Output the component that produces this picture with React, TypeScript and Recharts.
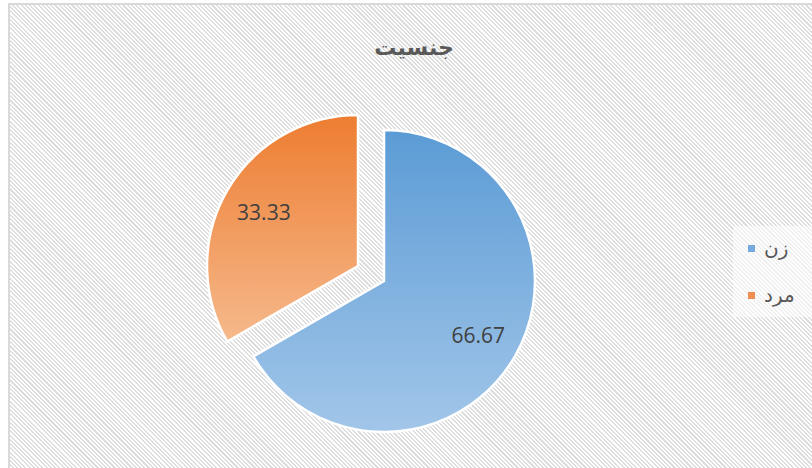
import { PieChart, Pie, Cell, Legend } from "recharts";

const genders = ["زن", "مرد"];
const shares = [66.67, 33.33];
const title = "جنسیت";

const data = genders.map((name, i) => ({ name, value: shares[i] }));

const gradTop = ["#5B9BD5", "#ED7D31"];
const gradBottom = ["#A2C6E9", "#F6B98C"];
const legendColors = ["#76A9DD", "#F08E51"];

const CX = 384;
const CY = 281;
const R = 151;
const EXPLODE = 30;
const RAD = Math.PI / 180;

// mid angle (recharts convention) of each slice when drawn clockwise from top
const total = shares.reduce((a, b) => a + b, 0);
const midAngles = shares.map((v, i) => {
  const before = shares.slice(0, i).reduce((a, b) => a + b, 0);
  return 90 - ((before + v / 2) / total) * 360;
});
const explodeBy = [0, EXPLODE];

const makeLabel = (visible: number) => (props: any) => {
  const { cx, cy, midAngle, outerRadius, value, index } = props;
  if (index !== visible) return null;
  const r = outerRadius * 0.72;
  const x = cx + r * Math.cos(-midAngle * RAD);
  const y = cy + r * Math.sin(-midAngle * RAD);
  return (
    <text
      x={x}
      y={y}
      fill="#404040"
      fontSize={21}
      fontFamily="'Open Sans', 'Liberation Sans', sans-serif"
      textAnchor="middle"
      dominantBaseline="central"
    >
      {value.toFixed(2)}
    </text>
  );
};

const renderLegend = (props: any) => {
  const seen = new Set<string>();
  const items = (props.payload || []).filter((p: any) => {
    if (seen.has(p.value)) return false;
    seen.add(p.value);
    return true;
  });
  return (
    <div
      style={{
        background: "rgba(255,255,255,0.55)",
        padding: "12px 10px 12px 15px",
        width: 62,
      }}
    >
      {items.map((p: any) => {
        const i = genders.indexOf(p.value);
        return (
          <div
            key={p.value}
            style={{
              display: "flex",
              alignItems: "center",
              gap: 9,
              height: 20,
              marginBottom: i === 0 ? 27 : 0,
              fontSize: 20,
              color: "#595959",
              fontFamily: "'DejaVu Sans', sans-serif",
            }}
          >
            <span
              style={{
                width: 7,
                height: 7,
                background: legendColors[i],
                display: "inline-block",
              }}
            />
            <span>{p.value}</span>
          </div>
        );
      })}
    </div>
  );
};

export default function App() {
  return (
    <div style={{ position: "relative", width: 812, height: 468 }}>
      <style>{`body{margin:0;overflow:hidden}`}</style>
      <div
        style={{
          position: "absolute",
          left: 8,
          top: 3,
          width: 804,
          height: 465,
          borderLeft: "2px solid #D9D9D9",
          borderTop: "2px solid #D9D9D9",
          boxSizing: "border-box",
          background:
            "repeating-linear-gradient(45deg, #FFFFFF 0px, #FFFFFF 1.5px, #DEDEDE 1.5px, #DEDEDE 3px)",
        }}
      />
      <div
        style={{
          position: "absolute",
          left: 8,
          top: 35,
          width: 812,
          textAlign: "center",
          fontFamily: "'DejaVu Sans', sans-serif",
          fontWeight: "bold",
          fontSize: 22,
          color: "#595959",
        }}
      >
        {title}
      </div>
      <div style={{ position: "absolute", left: 0, top: 0 }}>
        <PieChart width={812} height={468} margin={{ top: 0, right: 0, bottom: 0, left: 0 }}>
          <defs>
            {gradTop.map((c, i) => (
              <linearGradient key={i} id={`grad${i}`} x1="0" y1="0" x2="0" y2="1">
                <stop offset="0%" stopColor={c} />
                <stop offset="100%" stopColor={gradBottom[i]} />
              </linearGradient>
            ))}
          </defs>
          {genders.map((g, k) => (
            <Pie
              key={g}
              data={data}
              dataKey="value"
              nameKey="name"
              cx={CX + explodeBy[k] * Math.cos(-midAngles[k] * RAD)}
              cy={CY + explodeBy[k] * Math.sin(-midAngles[k] * RAD)}
              outerRadius={R}
              startAngle={90}
              endAngle={-270}
              stroke="#FFFFFF"
              strokeWidth={2.5}
              label={makeLabel(k)}
              labelLine={false}
              isAnimationActive={false}
            >
              {data.map((d, i) => (
                <Cell
                  key={d.name}
                  fill={i === k ? `url(#grad${i})` : "none"}
                  stroke={i === k ? "#FFFFFF" : "none"}
                />
              ))}
            </Pie>
          ))}
          <Legend
            content={renderLegend}
            wrapperStyle={{ position: "absolute", left: 733, top: 226, width: 80 }}
          />
        </PieChart>
      </div>
    </div>
  );
}
